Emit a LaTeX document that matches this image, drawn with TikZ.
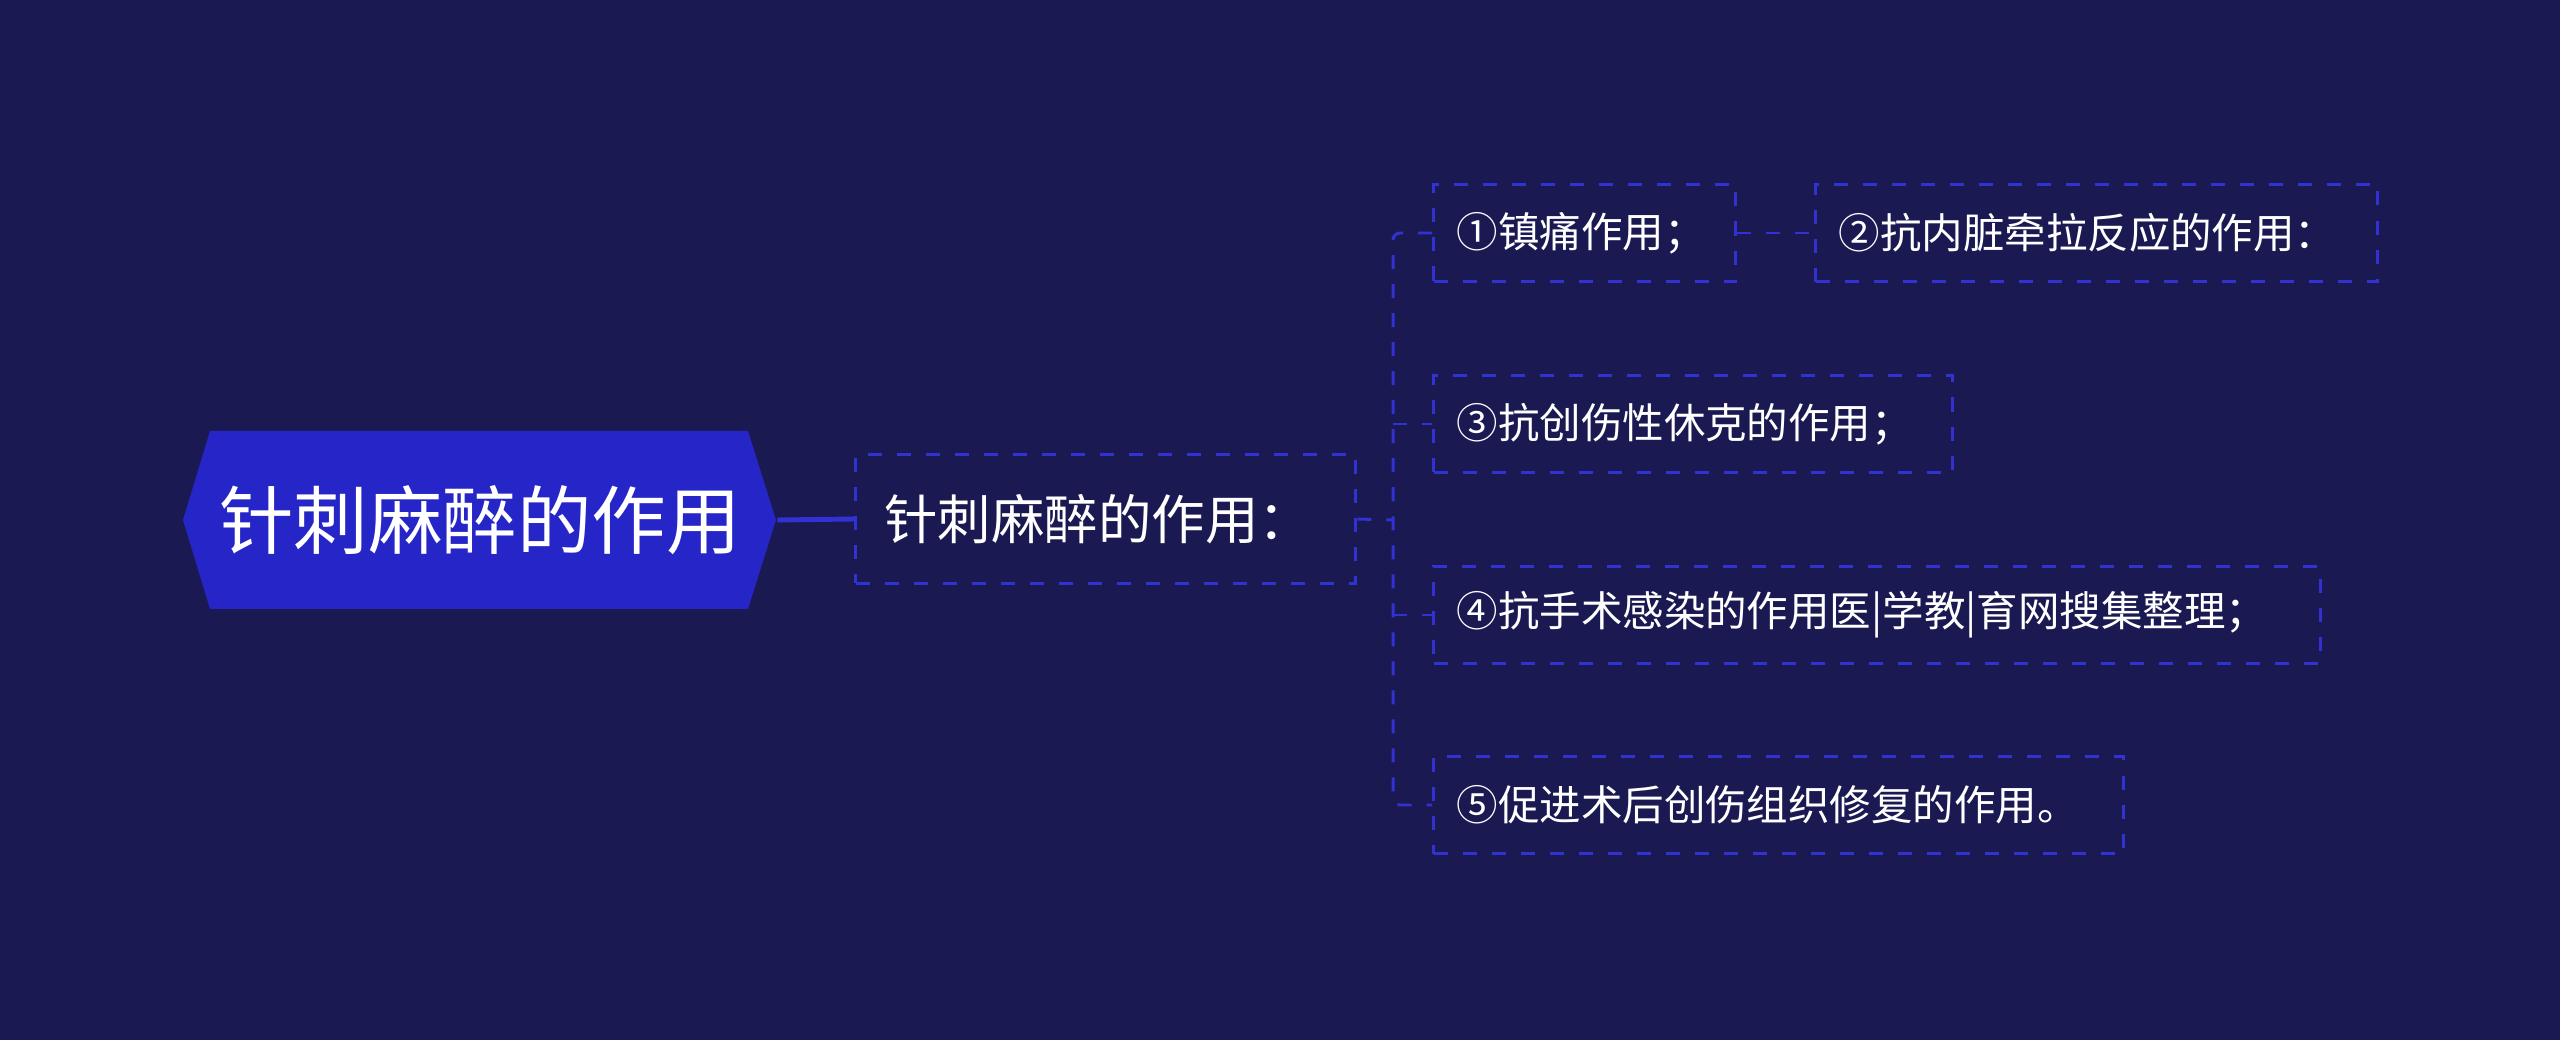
\documentclass[tikz,border=0pt]{standalone}
\usepackage{fontspec}
\newfontfamily\cjk{Noto Sans CJK SC}
\usetikzlibrary{positioning,calc}
\definecolor{bgblue}{RGB}{26,25,82}
\definecolor{rootblue}{RGB}{38,38,200}
\definecolor{lineblue}{RGB}{50,50,210}

\begin{document}
\begin{tikzpicture}[x=0.01cm,y=-0.01cm,
  rootnode/.style={inner sep=0pt,minimum width=5.93cm,minimum height=1.78cm,text=white,font={\cjk\fontsize{21.2}{25}\selectfont}},
  boxdash/.style={draw=lineblue,line width=0.85pt,dash pattern=on 0.14cm off 0.15cm},
  topic/.style={boxdash,anchor=west,inner xsep=0.29cm,minimum height=1.28cm,align=left,text=white,font={\cjk\fontsize{15.2}{18}\selectfont}},
  leaf/.style={boxdash,anchor=west,inner xsep=0.23cm,minimum height=0.97cm,align=left,text=white,font={\cjk\fontsize{11.8}{14}\selectfont}},
  link/.style={lineblue,line width=0.85pt,dash pattern=on 0.14cm off 0.15cm}]
\fill[bgblue] (0,0) rectangle (2560,1040);
\fill[rootblue] (183,520) -- (210,431) -- (748,431) -- (776,520) -- (748,609) -- (210,609) -- cycle;
\node (root) [rootnode] at (480,520) {针刺麻醉的作用};
\node (child) [topic,text width=4.42cm] at (854,519) {针刺麻醉的作用：};
\node (l1) [leaf,text width=2.56cm] at (1432,233) {①镇痛作用；};
\node (l2) [leaf,text width=5.16cm] at (1814,233) {②抗内脏牵拉反应的作用：};
\node (l3) [leaf,text width=4.73cm] at (1432,424) {③抗创伤性休克的作用；};
\node (l4) [leaf,text width=8.40cm] at (1432,615) {④抗手术感染的作用医|学教|育网搜集整理；};
\node (l5) [leaf,text width=6.44cm] at (1432,805) {⑤促进术后创伤组织修复的作用。};
\coordinate (trunk) at (1393,520);
\draw[lineblue,line width=1.4pt] (root.east) -- (child.west);
\draw[link] (child.east) -- (trunk);
\draw[link,rounded corners=2pt] (l1.west) -- (l1.west -| trunk) -- (l5.west -| trunk) -- (l5.west);
\path[link]
(l3.west -| trunk) edge (l3.west)
(l4.west -| trunk) edge (l4.west)
(l1.east) edge (l2.west)
;
\end{tikzpicture}
\end{document}
